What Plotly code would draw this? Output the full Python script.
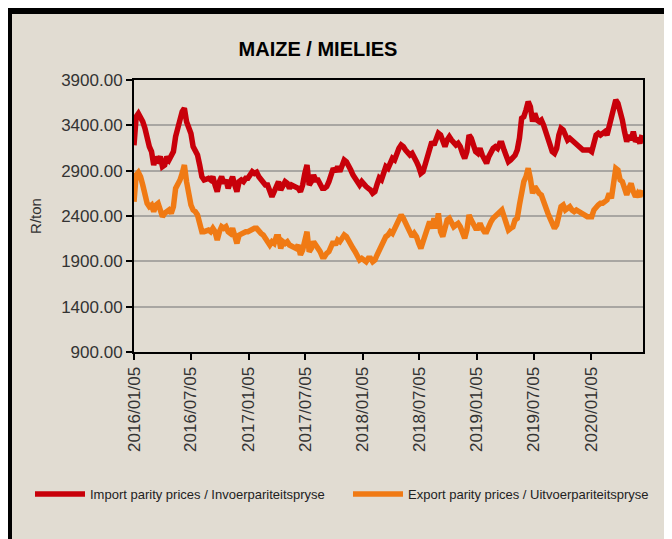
import pandas as pd
import plotly.graph_objects as go

start_date = "2016-01-05"
n_weeks = 233

import_parity = [
    3180, 3495, 3530, 3495, 3440, 3367, 3257, 3165, 3110, 2962,
    3050, 3018, 3054, 2945, 2962, 3054, 3018, 3073, 3110, 3275,
    3404, 3460, 3551, 3588, 3440, 3367, 3310, 3165, 3110, 3073,
    2962, 2834, 2797, 2805, 2815, 2797, 2834, 2742, 2668, 2779,
    2834, 2760, 2797, 2705, 2779, 2834, 2742, 2668, 2779, 2797,
    2779, 2815, 2815, 2852, 2889, 2870, 2882, 2834, 2797, 2779,
    2742, 2742, 2687, 2613, 2668, 2742, 2779, 2687, 2724, 2779,
    2760, 2705, 2742, 2724, 2724, 2705, 2668, 2742, 2870, 2962,
    2742, 2779, 2852, 2797, 2797, 2742, 2705, 2705, 2724, 2779,
    2870, 2926, 2889, 2945, 2889, 2962, 3018, 2999, 2962, 2907,
    2852, 2815, 2760, 2742, 2779, 2742, 2724, 2705, 2687, 2650,
    2668, 2750, 2820, 2800, 2880, 2945, 2926, 2981, 3036, 3018,
    3091, 3146, 3183, 3165, 3128, 3091, 3073, 3091, 3054, 2999,
    2945, 2870, 2889, 2981, 3054, 3128, 3220, 3183, 3257, 3312,
    3293, 3202, 3165, 3238, 3275, 3238, 3202, 3183, 3202, 3165,
    3091, 3036, 3110, 3293, 3257, 3183, 3110, 3091, 3146, 3073,
    3018, 2981, 3054, 3110, 3146, 3165, 3146, 3202, 3202, 3128,
    3036, 2999, 3018, 3040, 3070, 3128, 3257, 3477, 3495, 3569,
    3661, 3606, 3441, 3532, 3459, 3441, 3459, 3404, 3330, 3257,
    3183, 3110, 3091, 3146, 3293, 3367, 3349, 3275, 3238, 3257,
    3238, 3202, 3183, 3165, 3146, 3128, 3128, 3128, 3128, 3110,
    3183, 3293, 3312, 3293, 3312, 3330, 3293, 3385, 3477, 3551,
    3680, 3643, 3569, 3459, 3330, 3220, 3293, 3238, 3330, 3220,
    3257, 3202, 3293,
]

export_parity = [
    2558, 2852, 2880, 2834, 2742, 2632, 2540, 2503, 2521, 2448,
    2521, 2540, 2484, 2393, 2430, 2448, 2466, 2430, 2503, 2705,
    2742, 2797, 2870, 2962, 2779, 2632, 2521, 2466, 2448, 2411,
    2301, 2227, 2227, 2245, 2245, 2227, 2264, 2227, 2135, 2227,
    2282, 2264, 2282, 2227, 2208, 2264, 2190, 2098, 2190, 2208,
    2227, 2227, 2227, 2245, 2264, 2264, 2264, 2227, 2208, 2190,
    2154, 2135, 2080, 2117, 2098, 2172, 2172, 2043, 2117, 2098,
    2117, 2080, 2062, 2062, 2043, 2080, 1970, 2025, 2117, 2227,
    2007, 2043, 2117, 2080, 2062, 2007, 1951, 1951, 1988, 2007,
    2062, 2117, 2080, 2135, 2117, 2154, 2190, 2172, 2117, 2080,
    2043, 2007, 1951, 1915, 1933, 1915, 1896, 1933, 1933, 1896,
    1915, 1970, 2020, 2080, 2117, 2172, 2190, 2227, 2208, 2264,
    2301, 2374, 2411, 2374, 2319, 2301, 2227, 2172, 2208, 2172,
    2098, 2043, 2117, 2190, 2264, 2337, 2264, 2374, 2264, 2430,
    2227, 2172, 2264, 2356, 2374, 2337, 2282, 2301, 2319, 2282,
    2208, 2154, 2245, 2411, 2356, 2301, 2264, 2264, 2319, 2264,
    2227, 2227, 2301, 2337, 2374, 2393, 2411, 2448, 2466, 2393,
    2301, 2245, 2264, 2280, 2356, 2374, 2521, 2668, 2779, 2834,
    2926, 2815, 2650, 2724, 2668, 2650, 2632, 2577, 2503, 2430,
    2374, 2301, 2264, 2301, 2430, 2503, 2521, 2466, 2484, 2503,
    2466, 2448, 2466, 2448, 2430, 2411, 2411, 2393, 2393, 2393,
    2466, 2503, 2521, 2540, 2540, 2558, 2577, 2650, 2595, 2760,
    2926, 2907, 2797, 2779, 2705, 2632, 2705, 2760, 2668, 2613,
    2650, 2613, 2687,
]

tick_dates = ["2016-01-05", "2016-07-05", "2017-01-05", "2017-07-05", "2018-01-05",
              "2018-07-05", "2019-01-05", "2019-07-05", "2020-01-05"]
tick_labels = ["2016/01/05", "2016/07/05", "2017/01/05", "2017/07/05", "2018/01/05",
               "2018/07/05", "2019/01/05", "2019/07/05", "2020/01/05"]
y_ticks = [900, 1400, 1900, 2400, 2900, 3400, 3900]

dates = pd.date_range(start_date, periods=n_weeks, freq="7D")
x_end = dates[-1] + pd.Timedelta(days=3)

BG = "#e1dcd2"
FONT = "Liberation Sans, Arial, sans-serif"
W, H = 664, 531

fig = go.Figure()
fig.add_trace(go.Scatter(x=dates, y=import_parity, mode="lines",
                         name="Import parity prices / Invoerpariteitspryse",
                         legend="legend",
                         line=dict(color="#c8000a", width=5.5)))
fig.add_trace(go.Scatter(x=dates, y=export_parity, mode="lines",
                         name="Export parity prices / Uitvoerpariteitspryse",
                         legend="legend2",
                         line=dict(color="#f07a14", width=5.5)))

legend_common = dict(orientation="h", xref="container", yref="container",
                     xanchor="left", yanchor="middle", y=1 - 486 / H,
                     font=dict(family=FONT, size=13, color="#222222"),
                     itemwidth=50, bgcolor="rgba(0,0,0,0)")

fig.update_layout(
    width=W, height=H,
    margin=dict(l=126, r=29, t=72, b=187),
    paper_bgcolor="white",
    plot_bgcolor="rgba(0,0,0,0)",
    font=dict(family=FONT, color="#333333"),
    title=dict(text="<b>MAIZE / MIELIES</b>", x=310 / W, xanchor="center",
               y=1 - 41 / H, yanchor="middle",
               font=dict(family=FONT, size=20, color="black")),
    showlegend=True,
    legend=dict(x=22 / W, **legend_common),
    legend2=dict(x=340 / W, **legend_common),
    shapes=[dict(type="rect", xref="paper", yref="paper",
                 x0=(1 - 126) / 509, x1=1.2, y0=-0.9, y1=(344 - 3) / 272,
                 line=dict(color="black", width=6), fillcolor=BG, layer="below")],
)

fig.update_xaxes(
    type="date", range=[dates[0], x_end],
    tickvals=tick_dates, ticktext=tick_labels, tickangle=-90,
    ticks="outside", ticklen=6, tickcolor="black", tickwidth=1.5,
    tickfont=dict(family=FONT, size=17, color="#333333"),
    showgrid=False, showline=True, linecolor="black", linewidth=2, mirror=True,
    zeroline=False,
)
fig.update_yaxes(
    range=[900, 3900], tickvals=y_ticks, tickformat=".2f",
    ticks="outside", ticklen=6, tickcolor="black", tickwidth=1.5,
    tickfont=dict(family=FONT, size=17, color="#333333"),
    showgrid=True, gridcolor="#a8a6a2", gridwidth=1.5,
    showline=True, linecolor="black", linewidth=2, mirror=True,
    zeroline=False,
    title=dict(text="R/ton", font=dict(family=FONT, size=15, color="#333333"), standoff=16),
)

fig.write_html("out.html")
